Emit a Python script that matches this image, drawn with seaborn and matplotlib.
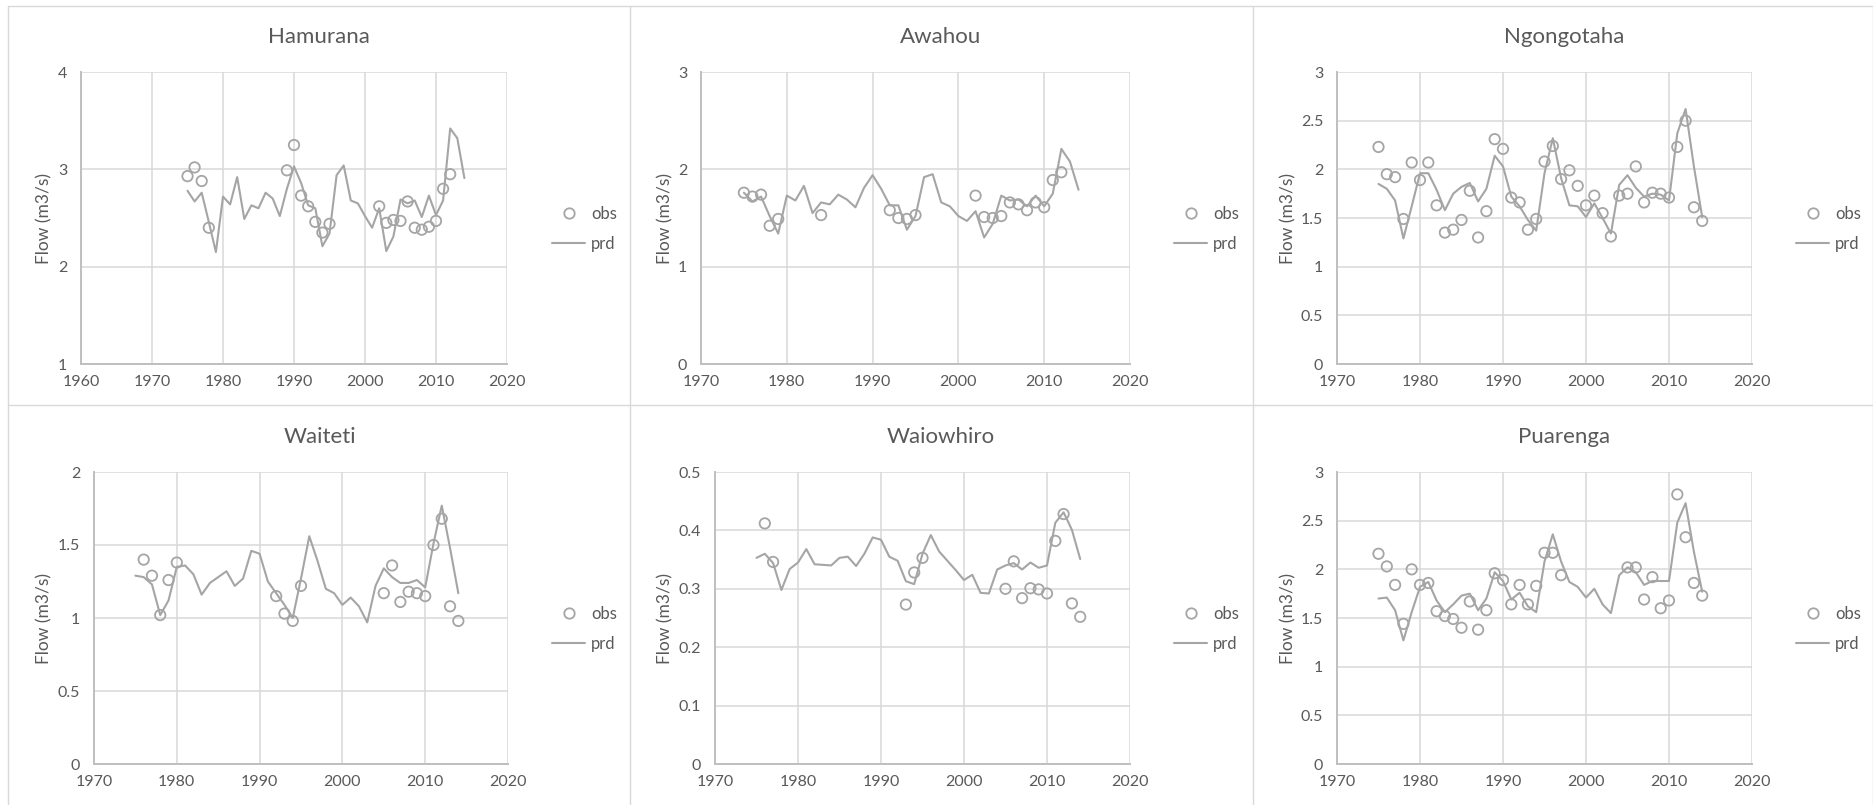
import matplotlib
matplotlib.use("Agg")
import matplotlib.pyplot as plt
from matplotlib.lines import Line2D
import seaborn as sns

# ---------------- data ----------------
YEARS = list(range(1975, 2015))

HAM_PRD = [2.78, 2.67, 2.76, 2.46, 2.15, 2.72, 2.64, 2.92, 2.49, 2.63,
           2.60, 2.76, 2.70, 2.52, 2.80, 3.03, 2.86, 2.63, 2.60, 2.21,
           2.34, 2.94, 3.04, 2.68, 2.65, 2.52, 2.40, 2.60, 2.16, 2.31,
           2.69, 2.65, 2.68, 2.51, 2.73, 2.53, 2.68, 3.42, 3.32, 2.91]
HAM_OBS_YR = [1975, 1976, 1977, 1978, 1989, 1990, 1991, 1992, 1993, 1994, 1995,
              2002, 2003, 2004, 2005, 2006, 2007, 2008, 2009, 2010, 2011, 2012]
HAM_OBS = [2.93, 3.02, 2.88, 2.40, 2.99, 3.25, 2.73, 2.62, 2.46, 2.35, 2.44,
           2.62, 2.45, 2.48, 2.47, 2.67, 2.40, 2.38, 2.41, 2.47, 2.80, 2.95]

AWA_PRD = [1.76, 1.67, 1.72, 1.52, 1.34, 1.73, 1.68, 1.83, 1.55, 1.66,
           1.64, 1.74, 1.69, 1.61, 1.81, 1.94, 1.80, 1.63, 1.63, 1.38,
           1.52, 1.92, 1.95, 1.66, 1.62, 1.52, 1.47, 1.57, 1.30, 1.44,
           1.73, 1.68, 1.69, 1.62, 1.73, 1.62, 1.75, 2.21, 2.08, 1.79]
AWA_OBS_YR = [1975, 1976, 1977, 1978, 1979, 1984, 1992, 1993, 1994, 1995,
              2002, 2003, 2004, 2005, 2006, 2007, 2008, 2009, 2010, 2011, 2012]
AWA_OBS = [1.76, 1.72, 1.74, 1.42, 1.49, 1.53, 1.58, 1.50, 1.49, 1.53,
           1.73, 1.51, 1.50, 1.52, 1.66, 1.64, 1.58, 1.66, 1.61, 1.89, 1.97]

NGO_PRD = [1.85, 1.80, 1.68, 1.29, 1.62, 1.96, 1.96, 1.79, 1.58, 1.75,
           1.82, 1.86, 1.67, 1.80, 2.14, 2.03, 1.72, 1.62, 1.48, 1.37,
           1.96, 2.32, 1.91, 1.63, 1.62, 1.51, 1.65, 1.50, 1.34, 1.84,
           1.94, 1.81, 1.72, 1.75, 1.74, 1.68, 2.37, 2.62, 2.03, 1.51]
NGO_OBS_YR = list(range(1975, 2015))
NGO_OBS = [2.23, 1.95, 1.92, 1.49, 2.07, 1.89, 2.07, 1.63, 1.35, 1.38,
           1.48, 1.78, 1.30, 1.57, 2.31, 2.21, 1.71, 1.66, 1.38, 1.49,
           2.08, 2.24, 1.90, 1.99, 1.83, 1.63, 1.73, 1.55, 1.31, 1.73,
           1.75, 2.03, 1.66, 1.76, 1.75, 1.71, 2.23, 2.50, 1.61, 1.47]

WAI_PRD = [1.29, 1.28, 1.23, 1.02, 1.12, 1.35, 1.36, 1.30, 1.16, 1.24,
           1.28, 1.32, 1.22, 1.27, 1.46, 1.44, 1.25, 1.17, 1.09, 1.00,
           1.27, 1.56, 1.39, 1.20, 1.17, 1.09, 1.14, 1.08, 0.97, 1.22,
           1.34, 1.28, 1.24, 1.24, 1.26, 1.21, 1.51, 1.77, 1.48, 1.17]
WAI_OBS_YR = [1976, 1977, 1978, 1979, 1980, 1992, 1993, 1994, 1995,
              2005, 2006, 2007, 2008, 2009, 2010, 2011, 2012, 2013, 2014]
WAI_OBS = [1.40, 1.29, 1.02, 1.26, 1.38, 1.15, 1.03, 0.98, 1.22,
           1.17, 1.36, 1.11, 1.18, 1.17, 1.15, 1.50, 1.68, 1.08, 0.98]

WAO_PRD = [0.353, 0.360, 0.344, 0.298, 0.334, 0.345, 0.368, 0.342, 0.341, 0.340,
           0.353, 0.355, 0.339, 0.360, 0.388, 0.384, 0.355, 0.348, 0.313, 0.308,
           0.360, 0.392, 0.364, 0.348, 0.332, 0.315, 0.324, 0.293, 0.292, 0.333,
           0.340, 0.344, 0.333, 0.345, 0.336, 0.340, 0.413, 0.431, 0.401, 0.351]
WAO_OBS_YR = [1976, 1977, 1993, 1994, 1995, 2005, 2006, 2007, 2008, 2009,
              2010, 2011, 2012, 2013, 2014]
WAO_OBS = [0.412, 0.346, 0.273, 0.328, 0.353, 0.300, 0.347, 0.284, 0.301, 0.299,
           0.292, 0.382, 0.428, 0.275, 0.252]

PUA_PRD = [1.70, 1.71, 1.58, 1.27, 1.56, 1.82, 1.87, 1.68, 1.56, 1.64,
           1.73, 1.75, 1.58, 1.70, 1.97, 1.88, 1.69, 1.76, 1.62, 1.56,
           2.08, 2.36, 2.08, 1.87, 1.82, 1.71, 1.80, 1.64, 1.55, 1.94,
           2.02, 1.97, 1.84, 1.88, 1.88, 1.88, 2.48, 2.68, 2.18, 1.77]
PUA_OBS_YR = [1975, 1976, 1977, 1978, 1979, 1980, 1981, 1982, 1983, 1984,
              1985, 1986, 1987, 1988, 1989, 1990, 1991, 1992, 1993, 1994,
              1995, 1996, 1997,
              2005, 2006, 2007, 2008, 2009, 2010, 2011, 2012, 2013, 2014]
PUA_OBS = [2.16, 2.03, 1.84, 1.44, 2.00, 1.84, 1.86, 1.57, 1.52, 1.49,
           1.40, 1.67, 1.38, 1.58, 1.96, 1.89, 1.64, 1.84, 1.64, 1.83,
           2.17, 2.17, 1.94,
           2.02, 2.02, 1.69, 1.92, 1.60, 1.68, 2.77, 2.33, 1.86, 1.73]

TITLES = ["Hamurana", "Awahou", "Ngongotaha", "Waiteti", "Waiowhiro", "Puarenga"]
Y_LABEL = "Flow (m3/s)"
LEGEND_LABELS = ["obs", "prd"]

# ---------------- layout (pixels) ----------------
W, H = 1874, 805
sns.set_style("white")
plt.rcParams["font.family"] = ["Lato", "DejaVu Sans"]

TXT = "#595959"
GRID = "#d9d9d9"
SPINE = "#bfbfbf"
LINE_C = "#a5a5a5"
MARK_C = "#a5a5a5"

panels = [
    (TITLES[0], HAM_PRD, HAM_OBS_YR, HAM_OBS, (81, 72, 507, 364), (1960, 2020), (1, 4), 1.0, 319, 37, 44, 552, 229),
    (TITLES[1], AWA_PRD, AWA_OBS_YR, AWA_OBS, (701, 72, 1130, 364), (1970, 2020), (0, 3), 1.0, 941, 37, 665, 1174, 229),
    (TITLES[2], NGO_PRD, NGO_OBS_YR, NGO_OBS, (1337, 72, 1752, 364), (1970, 2020), (0, 3), 0.5, 1564, 37, 1288, 1796, 229),
    (TITLES[3], WAI_PRD, WAI_OBS_YR, WAI_OBS, (94, 472, 508, 764), (1970, 2020), (0, 2), 0.5, 320, 437, 44, 552, 629),
    (TITLES[4], WAO_PRD, WAO_OBS_YR, WAO_OBS, (715, 472, 1130, 764), (1970, 2020), (0, 0.5), 0.1, 941, 437, 665, 1174, 629),
    (TITLES[5], PUA_PRD, PUA_OBS_YR, PUA_OBS, (1337, 472, 1752, 764), (1970, 2020), (0, 3), 0.5, 1564, 437, 1288, 1796, 629),
]

fig = plt.figure(figsize=(W / 100, H / 100), dpi=100)
fig.patch.set_facecolor("white")

for (x0, y0, x1, y1) in [(8, 6, 1873, 6), (8, 405, 1873, 405), (8, 6, 8, 805),
                         (630, 6, 630, 805), (1253, 6, 1253, 805), (1873, 6, 1873, 805)]:
    fig.add_artist(Line2D([x0 / W, x1 / W], [1 - y0 / H, 1 - y1 / H],
                          transform=fig.transFigure, color=GRID, lw=1.0))


def fmt(v, pos=None):
    return f"{v:g}"


for (title, prd, oyr, obs, box, xlim, ylim, ystep, tx, ty, ylx, lgx, lgy) in panels:
    l, t, r, b = box
    ax = fig.add_axes([l / W, 1 - b / H, (r - l) / W, (b - t) / H])
    sns.lineplot(x=YEARS, y=prd, ax=ax, color=LINE_C, linewidth=1.5, legend=False)
    sns.scatterplot(x=oyr, y=obs, ax=ax, marker="o", s=56, legend=False, zorder=3)
    coll = ax.collections[-1]
    coll.set_facecolor("none")
    coll.set_edgecolor(MARK_C)
    coll.set_linewidth(1.3)

    ax.set_xlim(*xlim)
    ax.set_ylim(*ylim)
    ax.set_xticks(list(range(xlim[0], xlim[1] + 1, 10)))
    n = int(round((ylim[1] - ylim[0]) / ystep))
    ax.set_yticks([round(ylim[0] + i * ystep, 3) for i in range(n + 1)])
    ax.yaxis.set_major_formatter(plt.FuncFormatter(fmt))
    ax.set_axisbelow(True)
    ax.grid(True, color=GRID, lw=1.1)
    for s in ["top", "right"]:
        ax.spines[s].set_visible(False)
    for s in ["left", "bottom"]:
        ax.spines[s].set_color(SPINE)
        ax.spines[s].set_linewidth(1.4)
    ax.tick_params(axis="both", length=0, labelsize=11.5, labelcolor=TXT)
    ax.tick_params(axis="y", pad=10)
    ax.tick_params(axis="x", pad=8)
    ax.set_xlabel("")
    ax.set_ylabel(Y_LABEL, fontsize=12.5, color=TXT)
    ax.yaxis.set_label_coords(ylx / W, 1 - (t + b) / 2 / H, transform=fig.transFigure)
    ax.yaxis.label.set_verticalalignment("center")

    ax.text(tx / W, 1 - ty / H, title, transform=fig.transFigure, ha="center",
            va="center", fontsize=16, color=TXT)

    handles = [Line2D([], [], marker="o", ls="none", mfc="none", mec=MARK_C, ms=7.5, mew=1.3),
               Line2D([], [], color=LINE_C, lw=1.5)]
    ax.legend(handles, LEGEND_LABELS, loc="center left",
              bbox_to_anchor=(lgx / W, 1 - lgy / H), bbox_transform=fig.transFigure,
              frameon=False, handlelength=2.0, handletextpad=0.35, labelspacing=0.85,
              borderpad=0, borderaxespad=0, fontsize=12, labelcolor=TXT)

fig.savefig("out.png", dpi=100, facecolor="white")
